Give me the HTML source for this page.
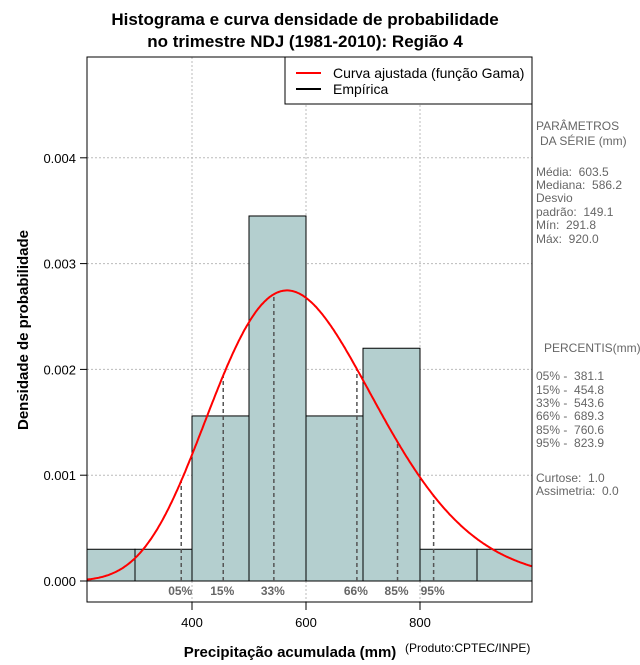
<!DOCTYPE html>
<html><head><meta charset="utf-8"><style>
body{margin:0;background:#fff;}
svg{font-family:"Liberation Sans",sans-serif;}
svg text{white-space:pre;}
</style></head><body>
<svg id="chart" width="640" height="660">
<text x="305" y="25" text-anchor="middle" font-size="17" font-weight="bold">Histograma e curva densidade de probabilidade</text>
<text x="305" y="47" text-anchor="middle" font-size="17" font-weight="bold">no trimestre NDJ (1981-2010): Região 4</text>
<g id="grid"></g>
<g id="bars"></g>
<g id="pct"></g>
<path id="curve" fill="none" stroke="#ff0000" stroke-width="2"/>
<g id="axes"></g>
<rect x="87" y="57" width="445" height="545" fill="none" stroke="#000"/>
<g>
<rect x="285" y="57" width="247" height="47" fill="#fff" stroke="#000"/>
<line x1="296" y1="73" x2="321" y2="73" stroke="#ff0000" stroke-width="2"/>
<text x="333" y="78" font-size="14">Curva ajustada (função Gama)</text>
<line x1="296" y1="89" x2="321" y2="89" stroke="#000" stroke-width="2"/>
<text x="333" y="94" font-size="14">Empírica</text>
</g>
<g font-size="12" fill="#666">
<text x="536" y="130">PARÂMETROS</text><text x="540" y="145">DA SÉRIE (mm)</text>
<text x="536" y="176">Média:  603.5</text><text x="536" y="189">Mediana:  586.2</text>
<text x="536" y="202">Desvio</text><text x="536" y="216">padrão:  149.1</text>
<text x="536" y="229">Mín:  291.8</text><text x="536" y="243">Máx:  920.0</text>
</g>
<g font-size="12" fill="#666">
<text x="544" y="352">PERCENTIS(mm)</text>
<text x="536" y="380">05% -  381.1</text><text x="536" y="394">15% -  454.8</text>
<text x="536" y="407">33% -  543.6</text><text x="536" y="420">66% -  689.3</text>
<text x="536" y="434">85% -  760.6</text><text x="536" y="447">95% -  823.9</text>
<text x="536" y="482">Curtose:  1.0</text><text x="536" y="495">Assimetria:  0.0</text>
</g>
<text x="28" y="330" transform="rotate(-90 28 330)" text-anchor="middle" font-size="15" font-weight="bold">Densidade de probabilidade</text>
<text x="290" y="657" text-anchor="middle" font-size="15" font-weight="bold">Precipitação acumulada (mm)</text>
<text x="405" y="652" font-size="12">(Produto:CPTEC/INPE)</text>
</svg>
<script>
const binStarts=[200,300,400,500,600,700,800,900];
const binDensity=[0.0003,0.0003,0.00156,0.00345,0.00156,0.0022,0.0003,0.0003];
const pctLabels=["05%","15%","33%","66%","85%","95%"];
const pctValues=[381.1,454.8,543.6,689.3,760.6,823.9];
const gammaMean=603.5, gammaSd=149.1;
const xTicks=[400,600,800];
const yTicks=[0,0.001,0.002,0.003,0.004];
const yTickLabels=["0.000","0.001","0.002","0.003","0.004"];
const binWidth=100;
const NS="http://www.w3.org/2000/svg";
const X=v=>192+(v-400)*0.57;
const Y=v=>581-v*105800;
const XMIN=216,XMAX=996;
function mk(t,a,p){const e=document.createElementNS(NS,t);for(const k in a)e.setAttribute(k,a[k]);p.appendChild(e);return e;}
function lgamma(z){const g=7,c=[0.99999999999980993,676.5203681218851,-1259.1392167224028,771.32342877765313,-176.61503916999185,12.507343278686905,-0.13857109526572012,9.9843695780195716e-6,1.5056327351493116e-7];z-=1;let x=c[0];for(let i=1;i<g+2;i++)x+=c[i]/(z+i);const t=z+g+0.5;return 0.5*Math.log(2*Math.PI)+(z+0.5)*Math.log(t)-t+Math.log(x);}
const k=(gammaMean/gammaSd)**2, th=gammaSd*gammaSd/gammaMean;
const pdf=x=>Math.exp((k-1)*Math.log(x)-x/th-lgamma(k)-k*Math.log(th));
const grid=document.getElementById('grid'),bars=document.getElementById('bars'),pct=document.getElementById('pct'),axes=document.getElementById('axes');
xTicks.forEach(v=>{const l=mk('line',{x1:X(v),x2:X(v),y1:57,y2:602,stroke:'#bbb','stroke-dasharray':'2,2'},grid);

const t=mk('line',{x1:X(v),x2:X(v),y1:602,y2:610,stroke:'#000'},axes);

const s=mk('text',{x:X(v),y:627,'text-anchor':'middle','font-size':'13'},axes);s.textContent=v;
});
yTicks.forEach((v,i)=>{const l=mk('line',{x1:87,x2:532,y1:Y(v),y2:Y(v),stroke:'#bbb','stroke-dasharray':'2,2'},grid);

const t=mk('line',{x1:80,x2:87,y1:Y(v),y2:Y(v),stroke:'#000'},axes);

const s=mk('text',{x:76,y:Y(v)+5,'text-anchor':'end','font-size':'13'},axes);s.textContent=yTickLabels[i];
});
binStarts.forEach((b,i)=>{const x0=Math.max(X(b),87),x1=Math.min(X(b+binWidth),532);
const r=mk('rect',{x:x0,y:Y(binDensity[i]),width:x1-x0,height:Y(0)-Y(binDensity[i]),fill:'#b4cfcf',stroke:'#000'},bars);
});
pctValues.forEach((v,i)=>{const l=mk('line',{x1:X(v),x2:X(v),y1:Y(0),y2:Y(pdf(v)),stroke:'#555','stroke-width':1.5,'stroke-dasharray':'4,3'},pct);

const t=mk('text',{x:X(v)-1,y:595,'text-anchor':'middle','font-size':'12','font-weight':'bold',fill:'#666'},pct);t.textContent=pctLabels[i];
});
let d='';for(let x=XMIN;x<=XMAX;x+=2){d+=(d?'L':'M')+X(x).toFixed(1)+','+Y(pdf(x)).toFixed(1);}
document.getElementById('curve').setAttribute('d',d);
</script>
</body></html>
